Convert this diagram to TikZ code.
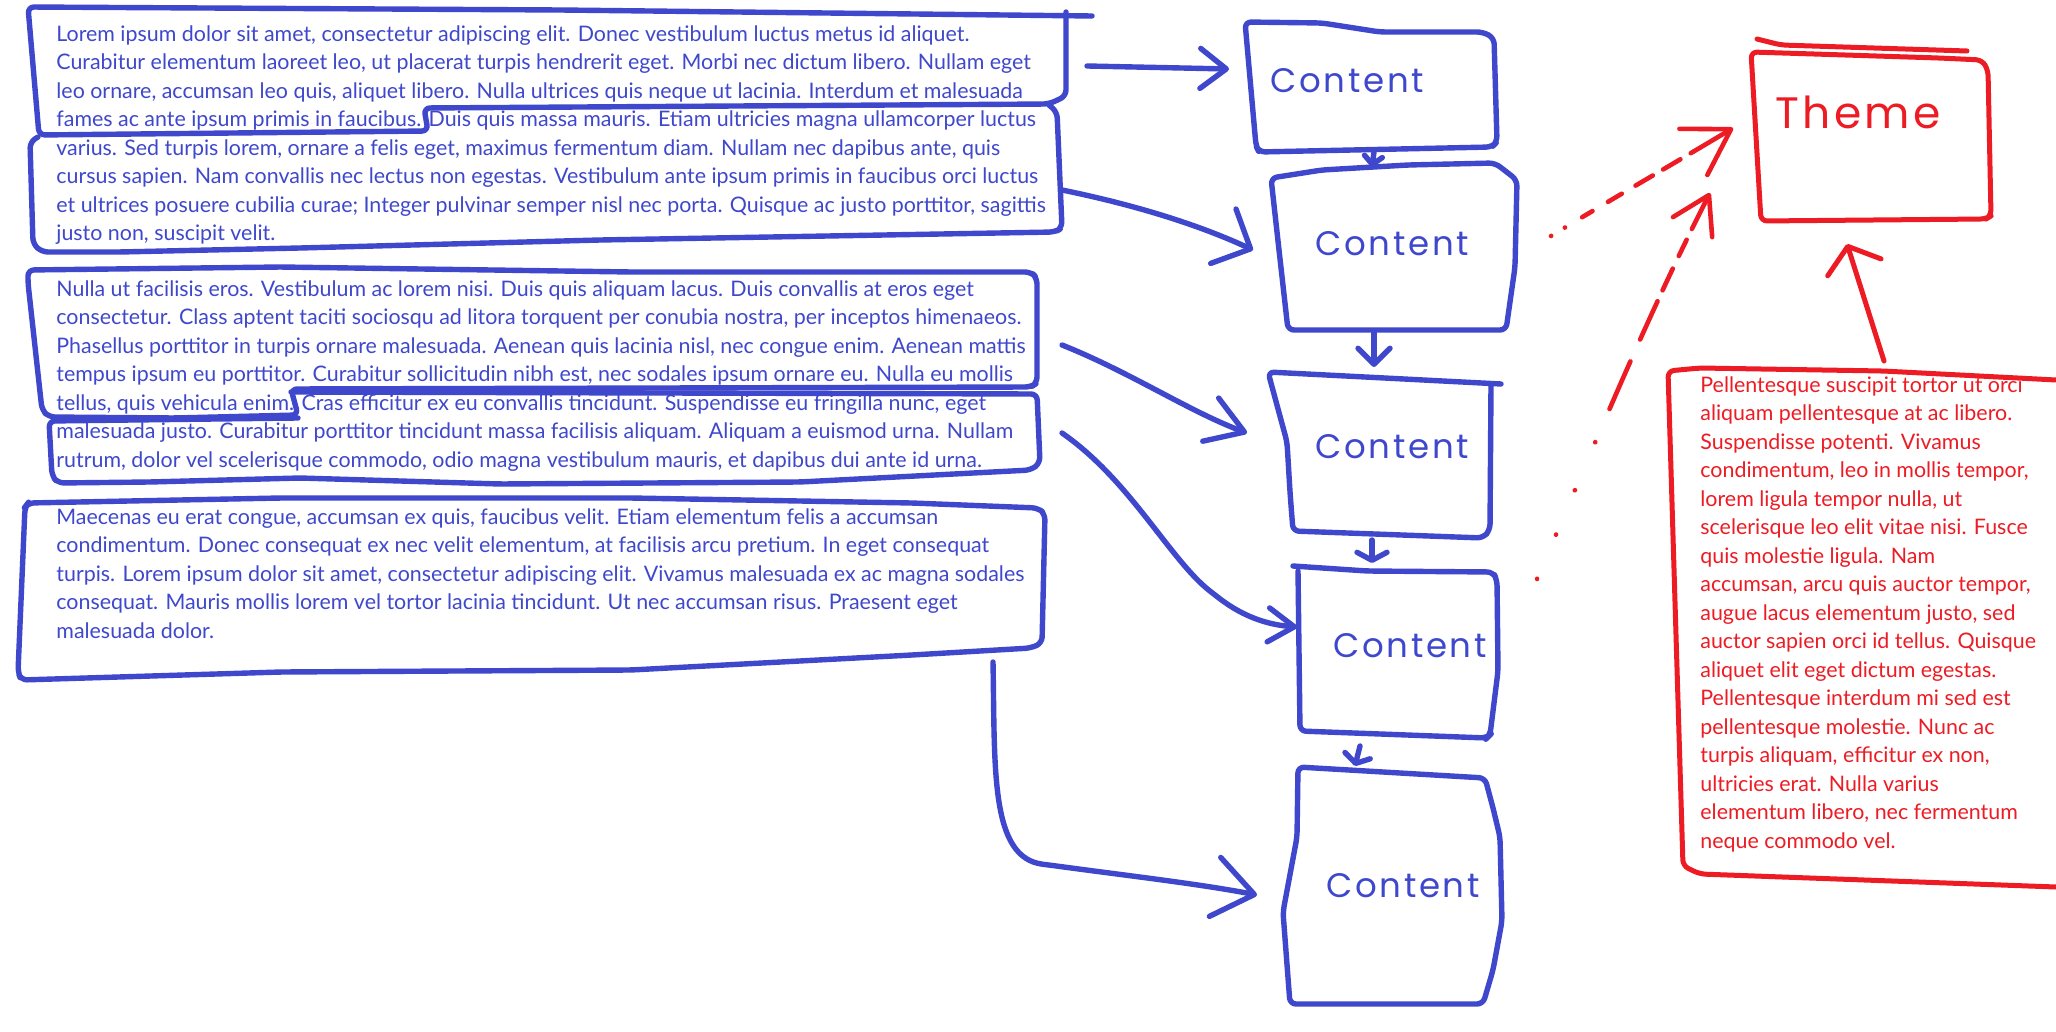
\documentclass[tikz,border=0pt]{standalone}
\usepackage{fontspec}
\setmainfont{Lato}
\newfontfamily\hand[LetterSpace=8]{Poppins}
\usetikzlibrary{arrows.meta}
\definecolor{hb}{RGB}{63,72,204}
\definecolor{hr}{RGB}{237,28,36}
\begin{document}
\begin{tikzpicture}[x=0.5pt,y=-0.5pt,
  hbline/.style={draw=hb,line width=2.7pt,line cap=round,line join=round,rounded corners=3pt},
  hrline/.style={draw=hr,line width=2.5pt,line cap=round,line join=round,rounded corners=3pt},
  para/.style={anchor=base west,inner sep=0pt,align=left,font=\fontsize{10.7}{14.25}\selectfont},
  handtext/.style={font=\hand\fontsize{17}{20}\selectfont,text=hb,inner sep=0pt},
  barb/.style n args={2}{-{Straight Barb[length=#1,width=#2,round]}}
]
\fill[white] (0,0) rectangle (2056,1032);
\useasboundingbox (0,0) rectangle (2056,1032);

% ---------------- blue paragraphs (anchored at last baseline) ----------------
\node[para,text=hb] (t1) at (56,241) {%
Lorem ipsum dolor sit amet, consectetur adipiscing elit. Donec vestibulum luctus metus id aliquet.\\
Curabitur elementum laoreet leo, ut placerat turpis hendrerit eget. Morbi nec dictum libero. Nullam eget\\
leo ornare, accumsan leo quis, aliquet libero. Nulla ultrices quis neque ut lacinia. Interdum et malesuada\\
fames ac ante ipsum primis in faucibus. Duis quis massa mauris. Etiam ultricies magna ullamcorper luctus\\
varius. Sed turpis lorem, ornare a felis eget, maximus fermentum diam. Nullam nec dapibus ante, quis\\
cursus sapien. Nam convallis nec lectus non egestas. Vestibulum ante ipsum primis in faucibus orci luctus\\
et ultrices posuere cubilia curae; Integer pulvinar semper nisl nec porta. Quisque ac justo porttitor, sagittis\\
justo non, suscipit velit.};

\node[para,text=hb] (t2) at (56,467) {%
Nulla ut facilisis eros. Vestibulum ac lorem nisi. Duis quis aliquam lacus. Duis convallis at eros eget\\
consectetur. Class aptent taciti sociosqu ad litora torquent per conubia nostra, per inceptos himenaeos.\\
Phasellus porttitor in turpis ornare malesuada. Aenean quis lacinia nisl, nec congue enim. Aenean mattis\\
tempus ipsum eu porttitor. Curabitur sollicitudin nibh est, nec sodales ipsum ornare eu. Nulla eu mollis\\
tellus, quis vehicula enim. Cras efficitur ex eu convallis tincidunt. Suspendisse eu fringilla nunc, eget\\
malesuada justo. Curabitur porttitor tincidunt massa facilisis aliquam. Aliquam a euismod urna. Nullam\\
rutrum, dolor vel scelerisque commodo, odio magna vestibulum mauris, et dapibus dui ante id urna.};

\node[para,text=hb] (t3) at (56,638) {%
Maecenas eu erat congue, accumsan ex quis, faucibus velit. Etiam elementum felis a accumsan\\
condimentum. Donec consequat ex nec velit elementum, at facilisis arcu pretium. In eget consequat\\
turpis. Lorem ipsum dolor sit amet, consectetur adipiscing elit. Vivamus malesuada ex ac magna sodales\\
consequat. Mauris mollis lorem vel tortor lacinia tincidunt. Ut nec accumsan risus. Praesent eget\\
malesuada dolor.};

% ---------------- red paragraph ----------------
\node[para,text=hr] (tr) at (1700,848) {%
Pellentesque suscipit tortor ut orci\\
aliquam pellentesque at ac libero.\\
Suspendisse potenti. Vivamus\\
condimentum, leo in mollis tempor,\\
lorem ligula tempor nulla, ut\\
scelerisque leo elit vitae nisi. Fusce\\
quis molestie ligula. Nam\\
accumsan, arcu quis auctor tempor,\\
augue lacus elementum justo, sed\\
auctor sapien orci id tellus. Quisque\\
aliquet elit eget dictum egestas.\\
Pellentesque interdum mi sed est\\
pellentesque molestie. Nunc ac\\
turpis aliquam, efficitur ex non,\\
ultricies erat. Nulla varius\\
elementum libero, nec fermentum\\
neque commodo vel.};

% ---------------- outlines around paragraphs ----------------
\draw[hbline] (1092,16) -- (560,10) -- (28,7) -- (39,135) -- (428,131) -- (424,108) -- (1049,104) -- (1066,96) -- (1066,12);
\draw[hbline] (1049,105) -- (1057,112) -- (1062,228) -- (1055,232) -- (600,240) -- (300,248) -- (120,252) -- (42,252) -- (33,244) -- (30,142) -- (38,137);
\draw[hbline] (28,270) -- (281,267) -- (631,272) -- (1031,272) -- (1037,278) -- (1037,383) -- (1031,387) -- (291,389) -- (298,415) -- (175,418) -- (49,417) -- (42,410) -- (28,283) -- cycle;
\draw[hbline] (291,392) -- (1037,394) -- (1040,463) -- (1031,470) -- (800,482) -- (500,484) -- (300,478) -- (150,482) -- (58,483) -- (52,476) -- (49,421) -- (298,418);
\draw[hbline] (28,503) -- (281,498) -- (631,498) -- (912,503) -- (1038,508) -- (1045,514) -- (1042,643) -- (1031,648) -- (912,655) -- (631,670) -- (281,672) -- (21,680) -- (18,672) -- (25,507) -- cycle;

% ---------------- content boxes ----------------
\draw[hbline] (1245,22) -- (1322,23) -- (1380,32) -- (1483,32) -- (1494,38) -- (1497,142) -- (1492,147) -- (1259,152) -- (1256,146) -- cycle;
\draw[hbline] (1271,178) -- (1322,170) -- (1408,165) -- (1495,163) -- (1517,180) -- (1515,267) -- (1506,330) -- (1288,330) -- (1279,250) -- cycle;
\draw[hbline] (1501,384) -- (1268,372) -- (1287,442) -- (1290,492) -- (1293,531) -- (1483,538) -- (1490,530) -- (1491,384);
\draw[hbline] (1293,566) -- (1367,571) -- (1493,572) -- (1497,580) -- (1498,671) -- (1490,735) -- (1487,738) -- (1300,731) -- (1298,571);
\draw[hbline] (1298,767) -- (1485,778) -- (1493,808) -- (1500,837) -- (1502,921) -- (1493,970) -- (1483,1004) -- (1290,1004) -- (1283,912) -- (1297,837) -- cycle;

\node[handtext] (c1) at (1347,81) {Content};
\node[handtext] (c2) at (1392,244) {Content};
\node[handtext] (c3) at (1392,447) {Content};
\node[handtext] (c4) at (1410,646) {Content};
\node[handtext] (c5) at (1403,886) {Content};

% ---------------- theme box ----------------
\draw[hrline] (1757,39) -- (1781,45) -- (1967,51);
\draw[hrline] (1939,58) -- (1982,60) -- (1988,70) -- (1991,216) -- (1986,219) -- (1761,221) -- (1751,52) -- cycle;
\node[font=\hand\fontsize{22}{26}\selectfont,text=hr,inner sep=0pt] (th) at (1858,112) {Theme};

% red outline of red paragraph
\draw[hrline] (2056,380) -- (1883,371) -- (1700,368) -- (1668,371) -- (1683,866) -- (1700,874) -- (2056,887);

% ---------------- connectors ----------------
\coordinate (s1) at (1087,66);   \coordinate (e1) at (1229,69);
\coordinate (s2) at (1062,190);  \coordinate (e2) at (1253,250);
\coordinate (s3) at (1062,345);  \coordinate (e3) at (1247,433);
\coordinate (s4) at (1062,433);  \coordinate (e4) at (1297,627);
\coordinate (s5) at (993,662);   \coordinate (e5) at (1257,895);

\draw[hbline,barb={13pt}{20pt}] (s1) -- (e1);
\draw[hbline,barb={15pt}{30pt}] (s2) .. controls (1150,208) and (1210,230) .. (e2);
\draw[hbline,barb={18pt}{23pt}] (s3) .. controls (1130,372) and (1190,412) .. (e3);
\draw[hbline,barb={13pt}{17pt}] (s4) .. controls (1130,480) and (1170,560) .. (1215,595) .. controls (1245,618) and (1270,625) .. (e4);
\draw[hbline,barb={20pt}{30pt}] (s5) .. controls (995,770) and (990,858) .. (1049,865) .. controls (1130,876) and (1200,884) .. (e5);

\coordinate (k1s) at (1374,152); \coordinate (k1e) at (1372,167);
\coordinate (k2s) at (1374,332); \coordinate (k2e) at (1374,367);
\coordinate (k3s) at (1372,540); \coordinate (k3e) at (1372,563);
\coordinate (k4s) at (1360,746); \coordinate (k4e) at (1355,766);
\draw[hbline,barb={4pt}{9pt}] (k1s) -- (k1e);
\draw[hbline,barb={8pt}{16pt}] (k2s) -- (k2e);
\draw[hbline,barb={4pt}{15pt}] (k3s) -- (k3e);
\draw[hbline,barb={4pt}{13pt}] (k4s) -- (k4e);

% red connectors
\coordinate (r1s) at (1551,236); \coordinate (r1e) at (1733,128);
\coordinate (r2s) at (1537,579); \coordinate (r2e) at (1710,193);
\coordinate (r3s) at (1884,361); \coordinate (r3e) at (1847,244);
\draw[hrline,line width=2.3pt,barb={22pt}{27pt},
  dash pattern=on 0.1pt off 8pt on 0.1pt off 10pt on 6pt off 9pt on 8pt off 8pt on 10pt off 6pt on 10pt off 6pt on 40pt]
  (r1s) .. controls (1610,200) and (1680,160) .. (r1e);
\draw[hrline,line width=2.3pt,barb={18pt}{22pt},
  dash pattern=on 0.1pt off 24pt on 0.1pt off 24pt on 0.1pt off 26pt on 0.1pt off 18pt on 26pt off 12pt on 21pt off 6pt on 12pt off 7pt on 9pt off 6pt on 40pt]
  (r2s) .. controls (1580,480) and (1640,330) .. (r2e);
\draw[hrline,barb={11pt}{28pt}] (r3s) -- (r3e);
\end{tikzpicture}
\end{document}
